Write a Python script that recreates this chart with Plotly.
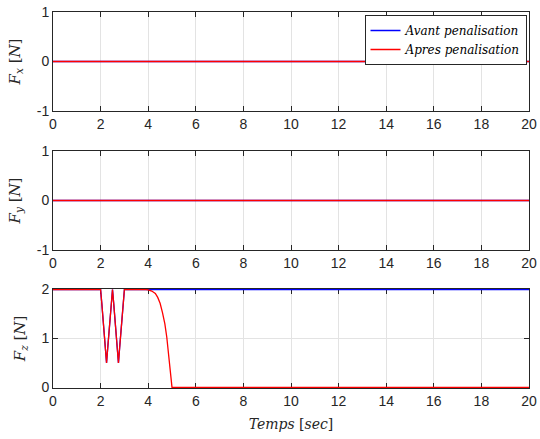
import plotly.graph_objects as go

# ---- data ----
t_span = [0, 20]
fx_avant = [0, 0]
fx_apres = [0, 0]
fy_avant = [0, 0]
fy_apres = [0, 0]

t_avant = [0, 2.0, 2.05, 2.1, 2.15, 2.2, 2.25, 2.3, 2.35, 2.4, 2.45, 2.5,
           2.55, 2.6, 2.65, 2.7, 2.75, 2.8, 2.85, 2.9, 2.95, 3.0, 20]
fz_avant = [2, 2, 1.72, 1.42, 1.12, 0.81, 0.5, 0.81, 1.12, 1.42, 1.72, 2,
            1.72, 1.42, 1.12, 0.81, 0.5, 0.81, 1.12, 1.42, 1.72, 2, 2]

t_apres = [0, 2.0, 2.05, 2.1, 2.15, 2.2, 2.25, 2.3, 2.35, 2.4, 2.45, 2.5,
           2.55, 2.6, 2.65, 2.7, 2.75, 2.8, 2.85, 2.9, 2.95, 3.0,
           3.9, 4.0, 4.15, 4.3, 4.4, 4.5, 4.6, 4.7, 4.78, 4.85, 4.92, 4.97, 5.0, 20]
fz_apres = [2, 2, 1.72, 1.42, 1.12, 0.81, 0.5, 0.81, 1.12, 1.42, 1.72, 2,
            1.72, 1.42, 1.12, 0.81, 0.5, 0.81, 1.12, 1.42, 1.72, 2,
            2, 1.995, 1.97, 1.92, 1.84, 1.72, 1.53, 1.3, 1.03, 0.72, 0.38, 0.12, 0, 0]

x_ticks = list(range(0, 21, 2))
xy_ticks = [-1, 0, 1]
xy_ticktext = ["-1", "0", "1"]
z_ticks = [0, 1, 2]

BLUE = "#0000ff"
RED = "#ff0000"
AX = "#262626"
GRID = "#e3e3e3"
SERIF = "DejaVu Serif"
SANS = "Liberation Sans"

fig = go.Figure()
panels = [
    ("x", "y", t_span, fx_avant, t_span, fx_apres),
    ("x2", "y2", t_span, fy_avant, t_span, fy_apres),
    ("x3", "y3", t_avant, fz_avant, t_apres, fz_apres),
]
# all "avant" (blue) traces first, then all "apres" (red) traces on top
for i, (xa, ya, ta, va, tb, vb) in enumerate(panels):
    fig.add_trace(go.Scatter(x=ta, y=va, mode="lines", xaxis=xa, yaxis=ya,
                             line=dict(color=BLUE, width=1.3), legendrank=1,
                             name="<i>Avant penalisation</i>", showlegend=(i == 0)))
for i, (xa, ya, ta, va, tb, vb) in enumerate(panels):
    fig.add_trace(go.Scatter(x=tb, y=vb, mode="lines", xaxis=xa, yaxis=ya,
                             line=dict(color=RED, width=1.3), legendrank=2,
                             name="<i>Apres penalisation</i>", showlegend=(i == 0)))

ML, MR, MT, MB = 52.5, 10.5, 12, 51
H = 439 - MT - MB
ydoms = [[1 - 99 / H, 1.0],
         [1 - 238 / H, 1 - 139 / H],
         [0.0, 1 - 277 / H]]

common_x = dict(domain=[0, 1], range=[0, 20], tickvals=x_ticks, ticks="inside",
                ticklen=5, tickcolor=AX, showline=True, linecolor=AX, linewidth=1,
                mirror="ticks", showgrid=True, gridcolor=GRID, gridwidth=1,
                zeroline=False, automargin=False, layer="below traces",
                tickfont=dict(family=SANS, size=14, color=AX))
common_y = dict(ticks="inside", ticklen=5, tickcolor=AX, showline=True,
                linecolor=AX, linewidth=1, mirror="ticks", showgrid=True,
                gridcolor=GRID, gridwidth=1, zeroline=False, automargin=False,
                layer="below traces",
                tickfont=dict(family=SANS, size=14, color=AX))

ylabels = ["<i>F</i><sub><i>x</i></sub> [<i>N</i>]",
           "<i>F</i><sub><i>y</i></sub> [<i>N</i>]",
           "<i>F</i><sub><i>z</i></sub> [<i>N</i>]"]

layout = dict(
    width=540, height=439,
    margin=dict(l=ML, r=MR, t=MT, b=MB, pad=0),
    paper_bgcolor="white", plot_bgcolor="white",
    showlegend=True, hovermode=False,
    legend=dict(x=1 - 2.5 / 477, y=1 - 3 / H, xanchor="right", yanchor="top",
                bgcolor="white", bordercolor=AX, borderwidth=1,
                font=dict(family=SERIF, size=12, color="black"),
                tracegroupgap=0, itemwidth=30),
)
for i in range(3):
    sx = "" if i == 0 else str(i + 1)
    xa = dict(common_x)
    ya = dict(common_y)
    ya["domain"] = ydoms[i]
    if i < 2:
        ya["range"] = [-1, 1]
        ya["tickvals"] = xy_ticks
        ya["ticktext"] = xy_ticktext
    else:
        ya["range"] = [-0.012, 2.012]
        ya["tickvals"] = z_ticks
        xa["title"] = dict(text="<i>Temps</i> [<i>sec</i>]",
                           font=dict(family=SERIF, size=14, color=AX), standoff=11)
    xa["anchor"] = "y" + sx
    ya["anchor"] = "x" + sx
    ya["title"] = dict(text=ylabels[i], font=dict(family=SERIF, size=15, color=AX),
                       standoff=12)
    layout["xaxis" + sx] = xa
    layout["yaxis" + sx] = ya

fig.update_layout(**layout)
fig.write_html("out.html",
               config={"displayModeBar": False, "staticPlot": True},
               post_script="document.body.style.margin='0';"
                           "document.body.style.overflow='hidden';")
